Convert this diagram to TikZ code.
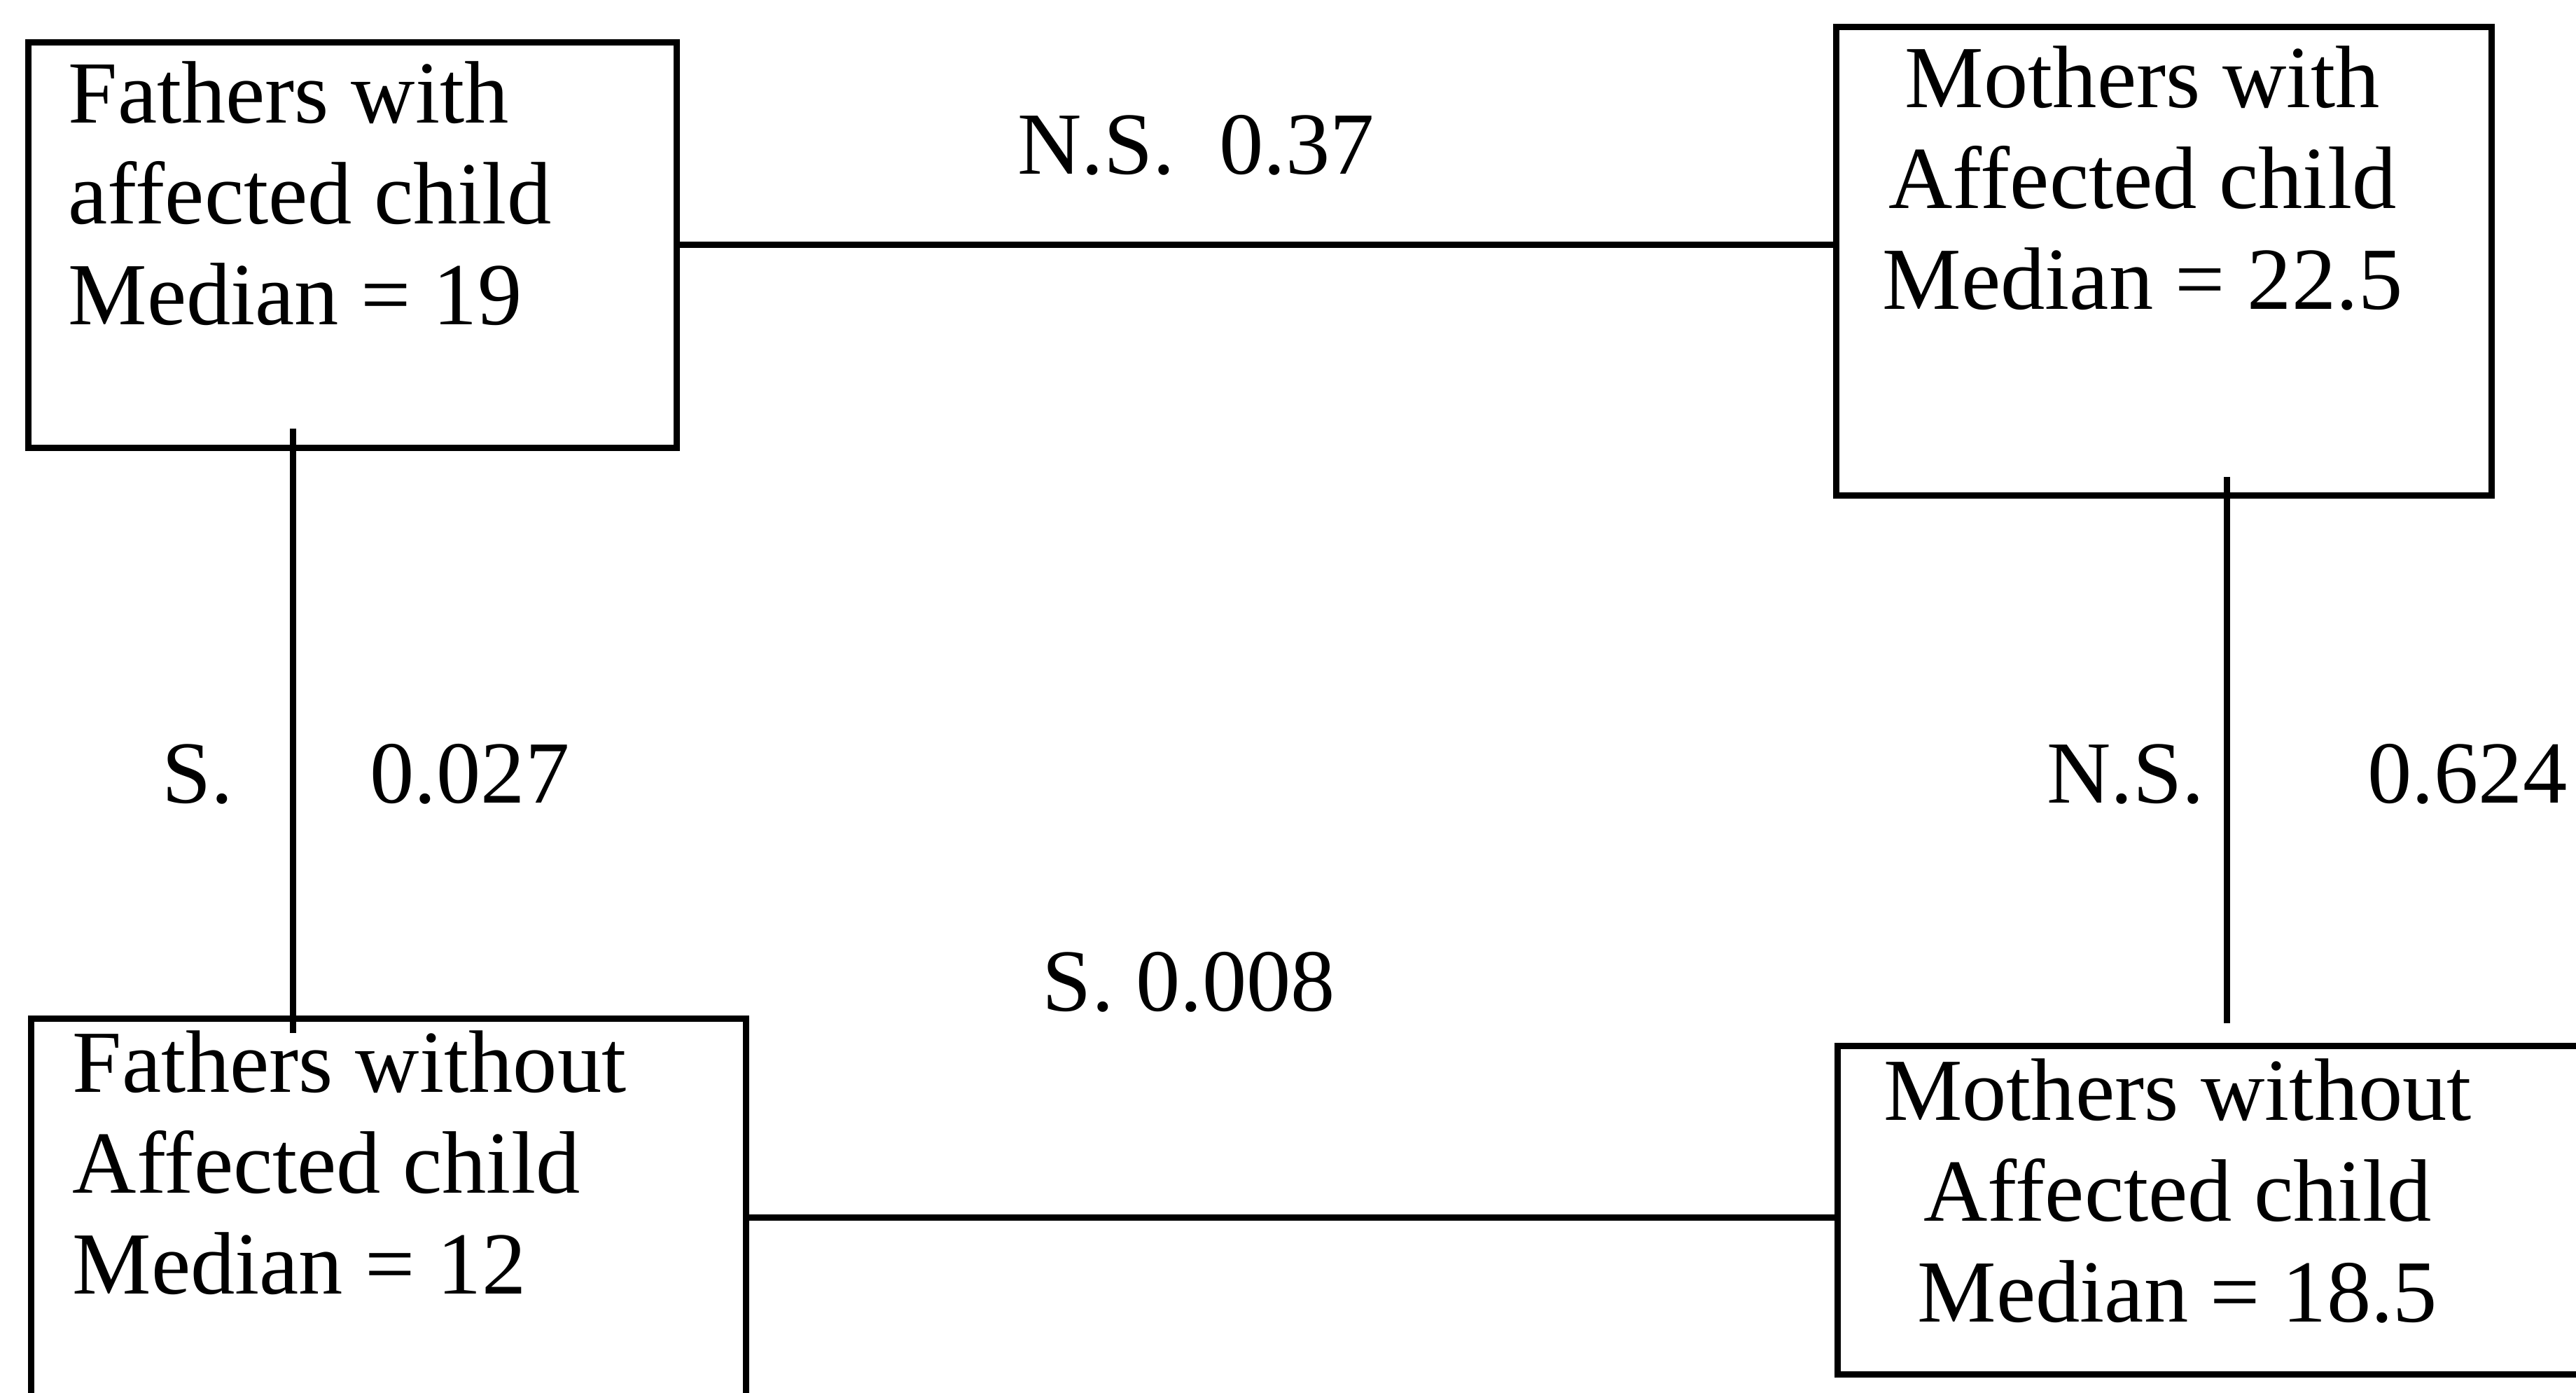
\documentclass[tikz,border=0pt]{standalone}
\usepackage{fontspec}
\setmainfont{Liberation Serif}
\usetikzlibrary{positioning, calc}
\tikzset{
  grpbox/.style={rectangle, draw=black, line width=0.09cm, inner sep=0pt,
                 anchor=north west},
  grptext/.style={font=\fontsize{36}{41}\selectfont, inner sep=0pt},
  pval/.style={font=\fontsize{36}{41}\selectfont, inner sep=0pt, anchor=base},
  link/.style={line width=0.09cm, draw=black},
}

\begin{document}
\begin{tikzpicture}
  \path[use as bounding box, clip] (0,0) rectangle (36.79,19.89);
  % the four groups
  \node[grpbox, minimum width=9.26cm, minimum height=5.79cm](fw) at (0.36,19.33){};
  \node[grpbox, minimum width=9.36cm, minimum height=6.69cm](mw) at (26.18,19.55){};
  \node[grpbox, minimum width=10.21cm, minimum height=5.68cm](fwo) at (0.40,5.39){};
  \node[grpbox, minimum width=11.3cm, minimum height=4.69cm](mwo) at (26.20,5.00){};
  \node[grptext, align=left, anchor=base west](fwtxt) at (0.97,15.25)
       {Fathers with\\affected child\\Median = 19};
  \node[grptext, align=center, anchor=base](mwtxt) at (30.6,15.47)
       {Mothers with\\Affected child\\Median = 22.5};
  \node[grptext, align=left, anchor=base west](fwotxt) at (1.03,1.41)
       {Fathers without\\Affected child\\Median = 12};
  \node[grptext, align=center, anchor=base](mwotxt) at (31.1,1.01)
       {Mothers without\\Affected child\\Median = 18.5};
  % connectors
  \coordinate (fwlow) at ($(fw.south west)+(3.82,0.32)$);
  \coordinate (fwotop) at ($(fwo.north west)+(3.78,-0.25)$);
  \coordinate (mwlow) at ($(mw.south west)+(5.62,0.31)$);
  \coordinate (mwotop) at ($(mwo.north west)+(5.60,0.28)$);
  \draw[link](fw.east)--(fw.east -| mw.west);
  \draw[link](fwo.east)--(fwo.east -| mwo.west);
  \draw[link](fwlow)--(fwlow |- fwotop);
  \draw[link](mwlow)--(mwlow |- mwotop);
  % test results
  \node[pval](ptop) at (17.08,17.40){N.S.~~0.37};
  \node[pval](pbot) at (16.98,5.45){S. 0.008};
  \node[pval](pleft) at (2.82,8.42){S.};
  \node[pval](pleftval) at (6.71,8.42){0.027};
  \node[pval, anchor=base east](pright) at (31.49,8.42){N.S.};
  \node[pval, anchor=base west](prightval) at (33.81,8.42){0.624};
\end{tikzpicture}
\end{document}
